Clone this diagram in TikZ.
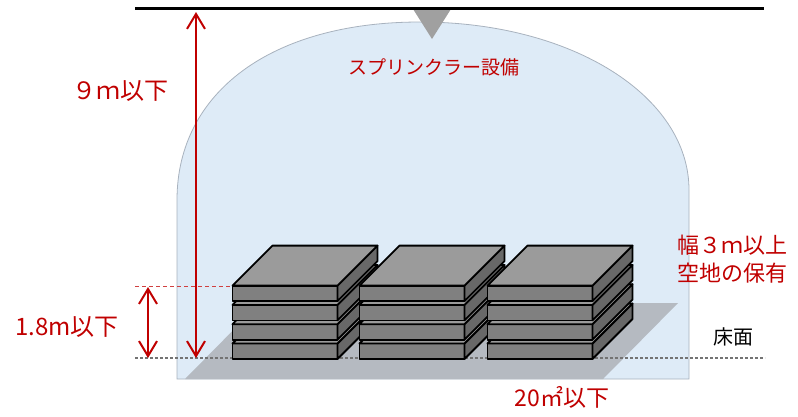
\documentclass[tikz,border=0pt]{standalone}
\usepackage{fontspec}
\setmainfont{Noto Sans CJK JP}
\usepackage{xcolor}
\usepackage{tikz}
\usetikzlibrary{arrows.meta,positioning}

\definecolor{domeblue}{RGB}{222,235,247}
\definecolor{domeedge}{RGB}{168,178,190}
\definecolor{floorgray}{RGB}{181,186,193}
\definecolor{warnred}{RGB}{192,0,0}
\definecolor{slabtop}{RGB}{155,155,155}
\definecolor{slabfront}{RGB}{128,128,128}
\definecolor{slabside}{RGB}{104,104,104}
\definecolor{headgray}{RGB}{160,160,160}

\tikzset{
  dim/.style={warnred, line width=2pt,
    {Straight Barb[length=15pt,width=18pt]}-{Straight Barb[length=15pt,width=18pt]}},
  redlabel/.style={text=warnred, inner sep=0pt, font=\fontsize{24}{28}\selectfont},
  slabface/.style={draw=black, line width=1.8pt, line join=round},
}

% one slab, #1,#2 = lower left corner of the front face
\newcommand{\slab}[2]{%
  \filldraw[slabface, fill=slabfront] (#1,#2) rectangle ++(105,-15.5);
  \filldraw[slabface, fill=slabside] (#1+105,#2) -- ++(40,-40) -- ++(0,-15.5) -- ++(-40,40) -- cycle;
  \filldraw[slabface, fill=slabtop] (#1,#2-15.5) -- ++(40,-40) -- ++(105,0) -- ++(-40,40) -- cycle;
}

\begin{document}
\begin{tikzpicture}[x=1pt, y=-1pt]
\useasboundingbox (0,0) rectangle (798,416);

% sprinkler coverage
\filldraw[fill=domeblue, draw=domeedge, line width=0.8pt]
  (177,379) -- (177,200) .. controls (177,92) and (272,22) .. (420,22)
  .. controls (572,22) and (689,96) .. (689,190) -- (689,379) -- cycle;

% floor area
\fill[floorgray] (185,379) -- (603,379) -- (678,303) -- (260,303) -- cycle;

\coordinate (floorL) at (135,358);
\coordinate (floorR) at (765,358);
\draw[black!55, line width=1.2pt, dash pattern=on 3pt off 2pt] (floorL) -- (floorR);

\coordinate (stacktop) at (232.5,286);
\coordinate (stackL) at (135,286);
\draw[warnred!75, line width=1pt, dash pattern=on 4pt off 3pt] (stackL) -- (stacktop);

% three stacks, four slabs each
\foreach \sx in {232.5,359.5,487.5}
  \foreach \k in {0,...,3}
    \slab{\sx}{359-19.3*\k};

% ceiling and sprinkler head
\fill[headgray] (413,9) -- (451,9) -- (432,39) -- cycle;
\draw[line width=3pt] (135,8) -- (764,8);

\coordinate (ceilA) at (196,12);
\coordinate (ceilB) at (196,358);
\coordinate (stackA) at (148,287);
\coordinate (stackB) at (148,358);
\draw[dim] (ceilA) -- (ceilB);
\draw[dim] (stackA) -- (stackB);

\node[redlabel, font=\fontsize{19}{22}\selectfont] (sprinklerlabel) at (434,67) {スプリンクラー設備};
\node[redlabel] (heightlabel) at (120,91) {９ｍ以下};
\node[redlabel] (stacklabel) at (67,327) {1.8m以下};
\node[redlabel, align=center, font=\fontsize{22}{28}\selectfont] (spacelabel) at (732,259) {幅３ｍ以上\\空地の保有};
\node[inner sep=0pt, font=\fontsize{20}{24}\selectfont] (floorlabel) at (733,337) {床面};
\node[redlabel, font=\fontsize{23}{27}\selectfont] (arealabel) at (562,397) {20㎡以下};

\end{tikzpicture}
\end{document}
